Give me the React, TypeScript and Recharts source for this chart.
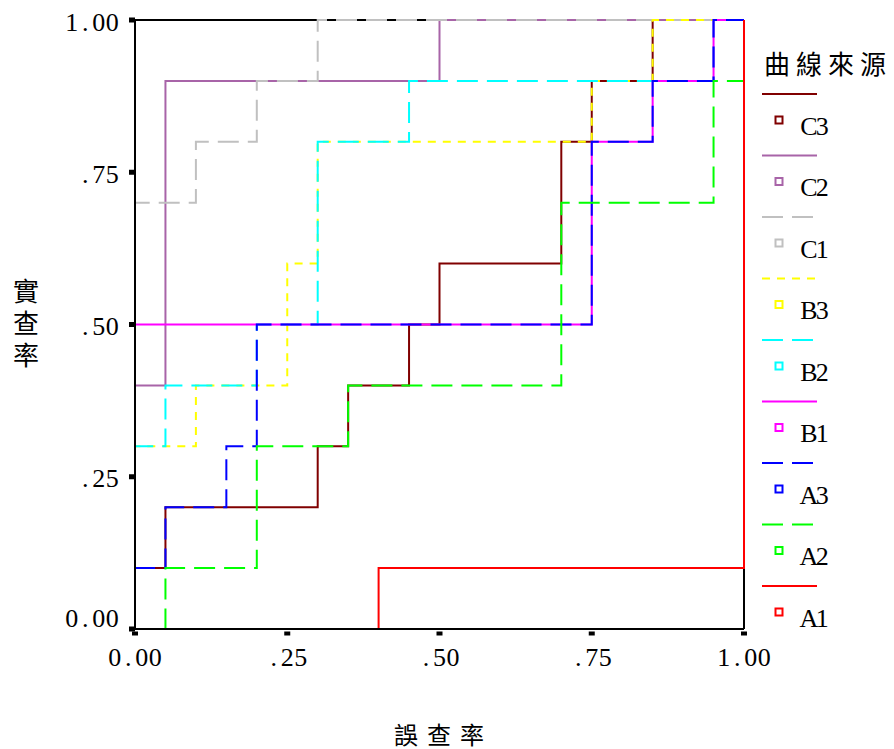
import { LineChart, Line, XAxis, YAxis, ReferenceLine } from "recharts";

const tickValues = [0, 0.25, 0.5, 0.75, 1];
const tickLabels = ["0.00", ".25", ".50", ".75", "1.00"];

// ROC step curves: corner points (誤查率 on x, 實查率 on y)
const c3X = [0, 0, 0.05, 0.05, 0.3, 0.3, 0.35, 0.35, 0.45, 0.45, 0.5, 0.5, 0.7, 0.7, 0.75, 0.75, 0.85, 0.85, 1];
const c3Y = [0, 0.1, 0.1, 0.2, 0.2, 0.3, 0.3, 0.4, 0.4, 0.5, 0.5, 0.6, 0.6, 0.8, 0.8, 0.9, 0.9, 1, 1];

const c2X = [0, 0, 0.05, 0.05, 0.5, 0.5, 1];
const c2Y = [0, 0.4, 0.4, 0.9, 0.9, 1, 1];

const c1X = [0, 0, 0.1, 0.1, 0.2, 0.2, 0.3, 0.3, 1];
const c1Y = [0, 0.7, 0.7, 0.8, 0.8, 0.9, 0.9, 1, 1];

const b3X = [0, 0, 0.1, 0.1, 0.25, 0.25, 0.3, 0.3, 0.75, 0.75, 0.85, 0.85, 1];
const b3Y = [0, 0.3, 0.3, 0.4, 0.4, 0.6, 0.6, 0.8, 0.8, 0.9, 0.9, 1, 1];

const b2X = [0, 0, 0.05, 0.05, 0.2, 0.2, 0.3, 0.3, 0.45, 0.45, 0.95, 0.95, 1];
const b2Y = [0, 0.3, 0.3, 0.4, 0.4, 0.5, 0.5, 0.8, 0.8, 0.9, 0.9, 1, 1];

const b1X = [0, 0, 0.75, 0.75, 0.85, 0.85, 0.95, 0.95, 1];
const b1Y = [0, 0.5, 0.5, 0.8, 0.8, 0.9, 0.9, 1, 1];

const a3X = [0, 0, 0.05, 0.05, 0.15, 0.15, 0.2, 0.2, 0.75, 0.75, 0.85, 0.85, 0.95, 0.95, 1];
const a3Y = [0, 0.1, 0.1, 0.2, 0.2, 0.3, 0.3, 0.5, 0.5, 0.8, 0.8, 0.9, 0.9, 1, 1];

const a2X = [0, 0.05, 0.05, 0.2, 0.2, 0.35, 0.35, 0.7, 0.7, 0.95, 0.95, 1, 1];
const a2Y = [0, 0, 0.1, 0.1, 0.3, 0.3, 0.4, 0.4, 0.7, 0.7, 0.9, 0.9, 1];

const a1X = [0, 0.4, 0.4, 1, 1];
const a1Y = [0, 0, 0.1, 0.1, 1];

const seriesNames = ["C3", "C2", "C1", "B3", "B2", "B1", "A3", "A2", "A1"];
const seriesColors = ["#800000", "#a864a8", "#c0c0c0", "#ffff00", "#00ffff", "#ff00ff", "#0000ff", "#00ff00", "#ff0000"];
const seriesDashes = ["", "", "21 9", "8 7", "21 9", "", "21 9", "21 9", ""];
const seriesXs = [c3X, c2X, c1X, b3X, b2X, b1X, a3X, a2X, a1X];
const seriesYs = [c3Y, c2Y, c1Y, b3Y, b2Y, b1Y, a3Y, a2Y, a1Y];

const series = seriesNames.map((name, i) => ({
  name,
  color: seriesColors[i],
  dash: seriesDashes[i],
  data: seriesXs[i].map((x, j) => ({ x, y: seriesYs[i][j] })),
}));

const NUM_FONT = "'Liberation Serif', serif";
const CJK_FONT = "'Noto Sans CJK TC', sans-serif";
const CELL = 13.5; // fixed advance for the half-width label font

const labelFor = (v: number) => tickLabels[tickValues.indexOf(v)] ?? String(v);

// monospace-style text: each character centred in its own cell
function MonoText({ text, x, y, anchor }: { text: string; x: number; y: number; anchor: "start" | "middle" | "end" }) {
  const w = text.length * CELL;
  const x0 = anchor === "start" ? x : anchor === "middle" ? x - w / 2 : x - w;
  const xs = text.split("").map((_, k) => (x0 + CELL / 2 + k * CELL).toFixed(1)).join(" ");
  return (
    <text x={xs} y={y} textAnchor="middle" dominantBaseline="central" fontFamily={NUM_FONT} fontSize={26} fill="#000">
      {text}
    </text>
  );
}

function YTick({ x, y, payload }: any) {
  // the bottom label sits a little higher so it clears the x-axis labels
  const dy = payload.value === 0 ? -11 : 2;
  return (
    <g>
      <rect x={x - 6} y={y - 2.5} width={6} height={5} fill="#000" />
      <MonoText text={labelFor(payload.value)} x={x - 16} y={y + dy} anchor="end" />
    </g>
  );
}

function XTick({ x, y, payload }: any) {
  return (
    <g>
      <rect x={x - 3} y={y + 2.5} width={6} height={4} fill="#000" />
      <MonoText text={labelFor(payload.value)} x={x} y={y + 28} anchor="middle" />
    </g>
  );
}

function LegendPanel() {
  const top = 94;
  const step = 61.5;
  return (
    <g>
      <text x={764} y={62} dominantBaseline="central" fontFamily={CJK_FONT} fontSize={26} letterSpacing={6} fill="#000">
        曲線來源
      </text>
      {series.map((s, i) => {
        const ly = top + i * step;
        return (
          <g key={s.name}>
            <line x1={762} x2={817} y1={ly} y2={ly} stroke={s.color} strokeWidth={2}
              strokeDasharray={s.dash || undefined} />
            <rect x={775.5} y={ly + 22.5} width={7} height={7} fill="none" stroke={s.color} strokeWidth={2} />
            <MonoText text={s.name} x={802} y={ly + 32} anchor="start" />
          </g>
        );
      })}
    </g>
  );
}

export default function App() {
  return (
    <div style={{ position: "absolute", left: 0, top: 0, width: 894, height: 749, background: "#fff" }}>
      <LineChart width={894} height={749} margin={{ top: 20, right: 150, bottom: 60, left: 75 }}>
        <XAxis type="number" dataKey="x" domain={[0, 1]} ticks={tickValues} height={60}
          axisLine={{ stroke: "#000", strokeWidth: 2 }} tickLine={false} tickSize={0} tickMargin={0}
          tick={<XTick />} interval={0} />
        <YAxis type="number" dataKey="y" domain={[0, 1]} ticks={tickValues} width={60}
          axisLine={{ stroke: "#000", strokeWidth: 2 }} tickLine={false} tickSize={0} tickMargin={0}
          tick={<YTick />} interval={0} />
        <ReferenceLine y={1} stroke="#000" strokeWidth={2} />
        <ReferenceLine x={1} stroke="#000" strokeWidth={2} />
        {series.map((s) => (
          <Line key={s.name} data={s.data} dataKey="y" name={s.name} type="linear" stroke={s.color}
            strokeWidth={2} strokeDasharray={s.dash || undefined} dot={false} activeDot={false}
            isAnimationActive={false} />
        ))}
      </LineChart>
      <svg width={894} height={749} style={{ position: "absolute", left: 0, top: 0, pointerEvents: "none" }}>
        <text x={26} y={278} fontFamily={CJK_FONT} fontSize={26} letterSpacing={6} fill="#000"
          style={{ writingMode: "vertical-rl" }}>
          實查率
        </text>
        <text x={394} y={733} dominantBaseline="central" fontFamily={CJK_FONT} fontSize={24} letterSpacing={9} fill="#000">
          誤查率
        </text>
        <LegendPanel />
      </svg>
    </div>
  );
}
